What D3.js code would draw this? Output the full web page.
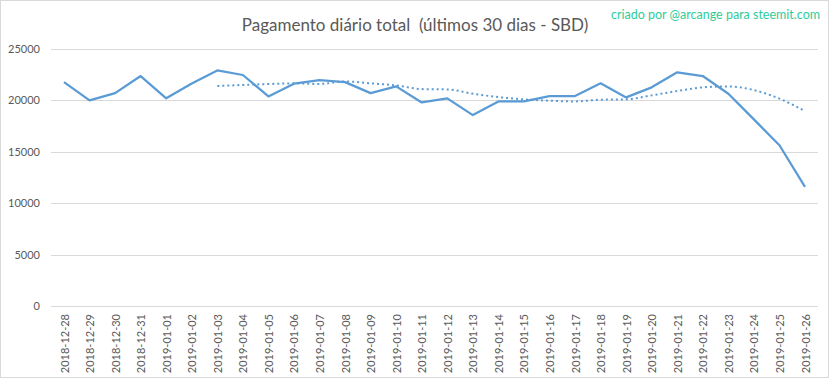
<!DOCTYPE html>
<html>
<head>
<meta charset="utf-8">
<script src="https://cdn.jsdelivr.net/npm/d3@7"></script>
<style>
  body { margin: 0; background: #fff; }
  svg text { font-family: Lato, "Open Sans", sans-serif; }
</style>
</head>
<body>
<svg id="chart"></svg>
<script>
const dates = [
  "2018-12-28", "2018-12-29", "2018-12-30", "2018-12-31", "2019-01-01",
  "2019-01-02", "2019-01-03", "2019-01-04", "2019-01-05", "2019-01-06",
  "2019-01-07", "2019-01-08", "2019-01-09", "2019-01-10", "2019-01-11",
  "2019-01-12", "2019-01-13", "2019-01-14", "2019-01-15", "2019-01-16",
  "2019-01-17", "2019-01-18", "2019-01-19", "2019-01-20", "2019-01-21",
  "2019-01-22", "2019-01-23", "2019-01-24", "2019-01-25", "2019-01-26"
];
const payout = [
  21780, 20000, 20710, 22370, 20200, 21650, 22920, 22470, 20390, 21630,
  21980, 21780, 20710, 21360, 19800, 20200, 18570, 19900, 19900, 20420,
  20420, 21660, 20290, 21270, 22730, 22370, 20650, 18150, 15640, 11590
];
// dotted trend (moving average); null = not drawn
const trend = [
  null, null, null, null, null, null, 21400, 21500, 21590, 21660,
  21600, 21850, 21660, 21460, 21100, 21070, 20650, 20320, 20100, 19970,
  19900, 20070, 20100, 20490, 20910, 21270, 21360, 21000, 20170, 18960
];
const yTicks = [0, 5000, 10000, 15000, 20000, 25000];

const W = 833, H = 379;
const margin = { top: 49, right: 15, bottom: 73, left: 51 };

const svg = d3.select("#chart").attr("width", W).attr("height", H);

svg.append("rect")
  .attr("x", 0.5).attr("y", 0.5)
  .attr("width", 828).attr("height", 377)
  .attr("fill", "#fff").attr("stroke", "#d9d9d9");

const x = d3.scalePoint()
  .domain(dates)
  .range([64, 805]);

const y = d3.scaleLinear()
  .domain([0, 25000])
  .range([306, 49]);

// grid
svg.append("g")
  .selectAll("line")
  .data(yTicks)
  .enter()
  .append("line")
  .attr("x1", margin.left)
  .attr("x2", 818)
  .attr("y1", (d) => Math.round(y(d)) + 0.5)
  .attr("y2", (d) => Math.round(y(d)) + 0.5)
  .attr("stroke", "#d9d9d9")
  .attr("stroke-width", 1);

// y axis labels
const yAxis = svg.append("g")
  .attr("transform", "translate(" + margin.left + ",0)")
  .call(d3.axisLeft(y).tickValues(yTicks).tickSize(0).tickPadding(11).tickFormat(d3.format("d")));
yAxis.select(".domain").remove();
yAxis.selectAll("text")
  .attr("fill", "#595959")
  .style("font-size", "11px");

// x axis labels
const xAxis = svg.append("g")
  .attr("transform", "translate(0,306)")
  .call(d3.axisBottom(x).tickSize(0).tickPadding(0));
xAxis.select(".domain").remove();
xAxis.selectAll("text")
  .attr("fill", "#595959")
  .style("font-size", "11px")
  .attr("text-anchor", "end")
  .attr("dy", null)
  .attr("transform", "translate(4,8) rotate(-90)");

// main line
const line = d3.line()
  .x((d, i) => x(dates[i]))
  .y((d) => y(d));

svg.append("path")
  .datum(payout)
  .attr("fill", "none")
  .attr("stroke", "#5b9bd5")
  .attr("stroke-width", 2.25)
  .attr("stroke-linejoin", "round")
  .attr("d", line);

// trend line
const trendLine = d3.line()
  .defined((d) => d !== null)
  .x((d, i) => x(dates[i]))
  .y((d) => y(d))
  .curve(d3.curveMonotoneX);

svg.append("path")
  .datum(trend)
  .attr("fill", "none")
  .attr("stroke", "#5b9bd5")
  .attr("stroke-width", 2)
  .attr("stroke-dasharray", "2,3")
  .attr("d", trendLine);

// title
svg.append("text")
  .attr("x", 415)
  .attr("y", 31)
  .attr("text-anchor", "middle")
  .attr("fill", "#595959")
  .style("font-size", "17px")
  .style("white-space", "pre")
  .text("Pagamento diário total  (últimos 30 dias - SBD)");

svg.append("text")
  .attr("x", 820)
  .attr("y", 19)
  .attr("text-anchor", "end")
  .attr("fill", "#2ecc9a")
  .style("font-size", "12.5px")
  .text("criado por @arcange para steemit.com");
</script>
</body>
</html>
